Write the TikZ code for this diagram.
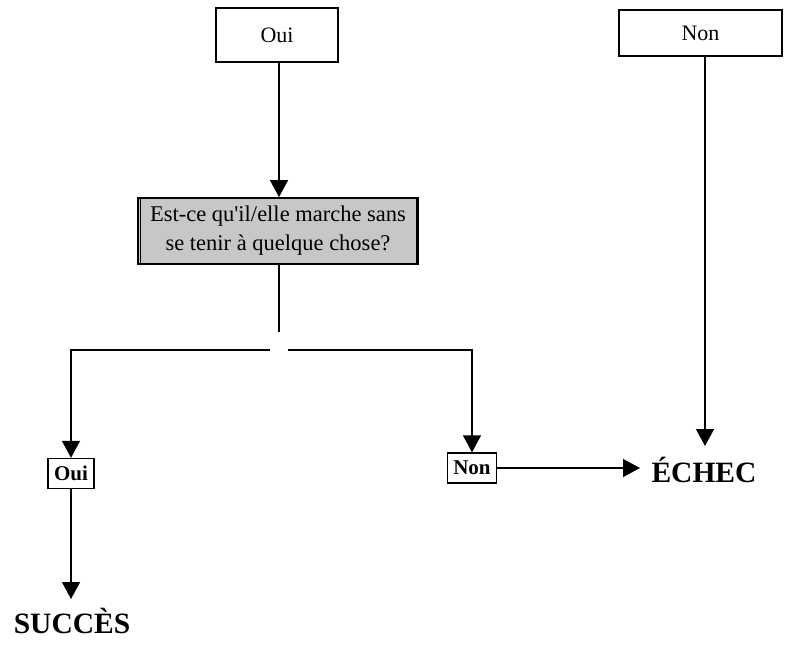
\documentclass[tikz,border=0pt]{standalone}
\usepackage{fontspec}
\setmainfont{Liberation Serif}
\usetikzlibrary{arrows.meta}
\begin{document}
\begin{tikzpicture}[x=1pt,y=-1pt,
  line width=1.4pt,
  box/.style={draw,line width=1.4pt,inner sep=0pt,font=\fontsize{22}{26}\selectfont},
  smallbox/.style={draw,line width=1.4pt,inner xsep=6pt,inner ysep=0pt,minimum height=30pt,font=\bfseries\fontsize{21}{24}\selectfont},
  big/.style={font=\bfseries\fontsize{29.5}{32}\selectfont,inner sep=0pt},
  arr/.style={-{Triangle[length=17pt,width=18pt]},line width=1.4pt},
  ln/.style={line width=1.4pt}]
\useasboundingbox (0,0) rectangle (785,646);
\node[box,minimum width=122pt,minimum height=54pt] (oui1) at (277,35) {Oui};
\node[box,minimum width=163pt,minimum height=46pt] (non1) at (700.5,33) {Non};
\node[box,fill=black!22,minimum width=280pt,minimum height=66pt,align=center,
      font=\fontsize{22.5}{29}\selectfont,line width=1.8pt] (q) at (278,231)
      {Est-ce qu\textquotesingle il/elle marche sans\\se tenir à quelque chose?};
\draw[line width=0.7pt] ([xshift=3pt]q.north west) -- ([xshift=3pt]q.south west);
\draw[line width=0.7pt] ([xshift=-3pt]q.north east) -- ([xshift=-3pt]q.south east);
\node[smallbox] (oui2) at (71,473.5) {Oui};
\node[smallbox] (non2) at (472,468) {Non};
\node[big] (echec) at (704,470) {ÉCHEC};
\node[big] (succes) at (72,621) {SUCCÈS};
\coordinate (qe) at (279,332);
\coordinate (lh) at (270,350);
\coordinate (rh) at (288,350);
\draw[arr] (oui1.south -| 279,0) -- (q.north -| 279,0);
\draw[ln] (q.south -| qe) -- (qe);
\draw[arr] (lh) -- (lh -| oui2) -- (oui2.north);
\draw[arr] (rh) -- (rh -| non2) -- (non2.north);
\draw[arr] (non1.south -| 705,0) -- (705,446);
\draw[arr] (non2.east) -- (640,468);
\draw[arr] (oui2.south) -- (71,599);
\end{tikzpicture}
\end{document}
